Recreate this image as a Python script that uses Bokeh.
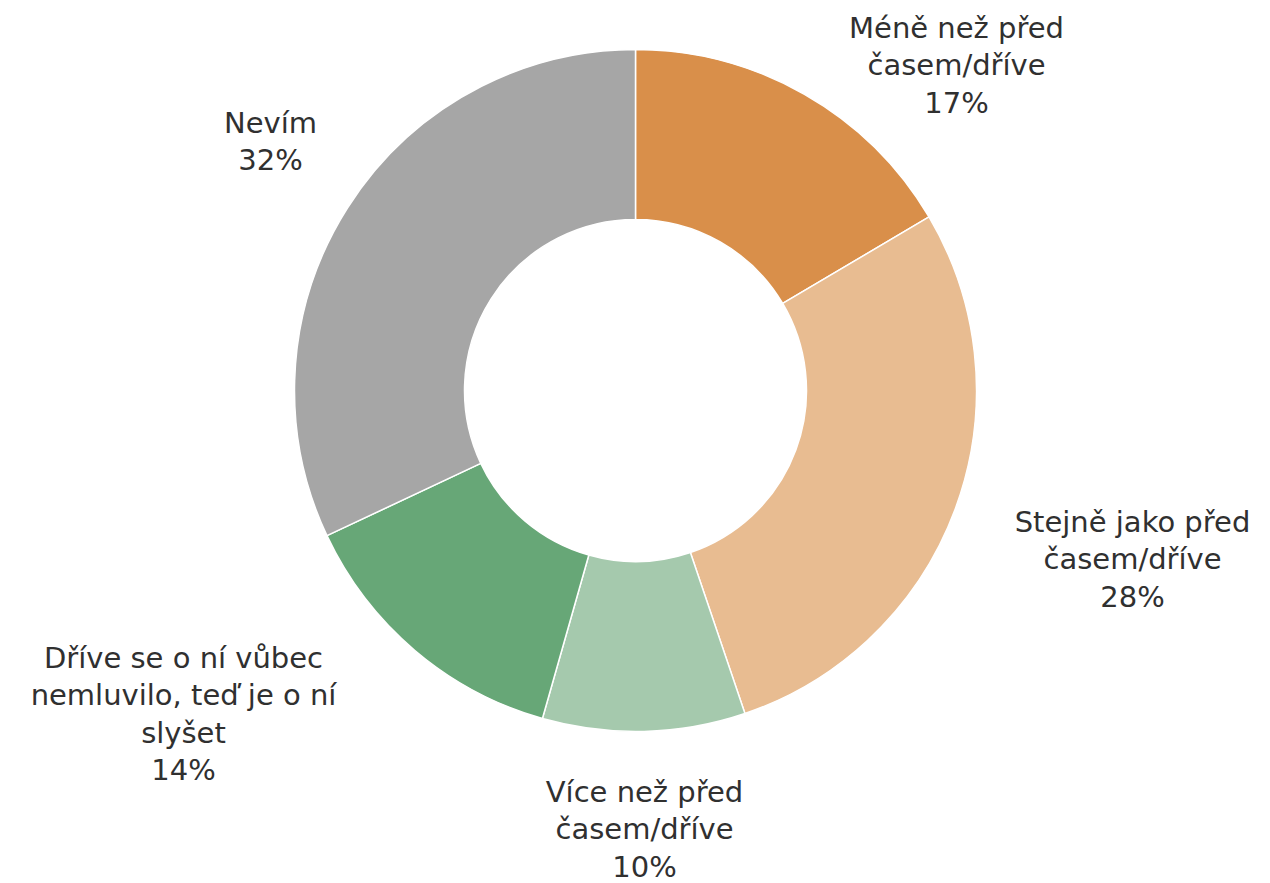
import math
from bokeh.plotting import figure
from bokeh.models import ColumnDataSource
from bokeh.core.properties import value
from bokeh.embed import file_html
from bokeh.resources import INLINE

categories = ["Méně než před časem/dříve", "Stejně jako před časem/dříve",
              "Více než před časem/dříve",
              "Dříve se o ní vůbec nemluvilo, teď je o ní slyšet", "Nevím"]
shares = [16.5, 28.3, 9.6, 13.6, 32.0]
pct_labels = ["17%", "28%", "10%", "14%", "32%"]
label_lines = [
    ["Méně než před", "časem/dříve"],
    ["Stejně jako před", "časem/dříve"],
    ["Více než před", "časem/dříve"],
    ["Dříve se o ní vůbec", "nemluvilo, teď je o ní", "slyšet"],
    ["Nevím"],
]
colors = ["#D98F4A", "#E8BC91", "#A5C9AD", "#67A777", "#A6A6A6"]

W, H = 1270, 883
# layout: screen coordinates of label block top line centres
label_pos = [(956, 27), (1132, 521), (644, 791), (183, 657), (270, 122)]
line_gap = 37.5
cx_s, cy_s = 635, 390
R_out, R_in = 341, 171


def to_data(sx, sy):
    return sx, H - sy


p = figure(width=W, height=H, x_range=(0, W), y_range=(0, H),
           output_backend="svg", toolbar_location=None, min_border=0)
p.axis.visible = False
p.grid.visible = False
p.outline_line_color = None
p.background_fill_color = "white"

total = sum(shares)
starts, ends = [], []
cum = 0.0
for s in shares:
    starts.append(math.pi / 2 - 2 * math.pi * cum / total)
    cum += s
    ends.append(math.pi / 2 - 2 * math.pi * cum / total)

cx, cy = to_data(cx_s, cy_s)
src = ColumnDataSource(dict(x=[cx] * len(shares), y=[cy] * len(shares),
                            start=starts, end=ends, color=colors, cat=categories))
p.annular_wedge(x="x", y="y", inner_radius=R_in, outer_radius=R_out,
                start_angle="start", end_angle="end", direction="clock",
                fill_color="color", line_color="white", line_width=1.5, source=src)

tx, ty, tt = [], [], []
for lines, pct, (lx, ly) in zip(label_lines, pct_labels, label_pos):
    for i, t in enumerate(lines + [pct]):
        x, y = to_data(lx, ly + i * line_gap)
        tx.append(x)
        ty.append(y)
        tt.append(t)

p.text(x=tx, y=ty, text=tt, text_align="center", text_baseline="middle",
       text_font=value("DejaVu Sans"), text_font_size="29px", text_color="#303030")

open("out.html", "w").write(file_html(p, INLINE))
